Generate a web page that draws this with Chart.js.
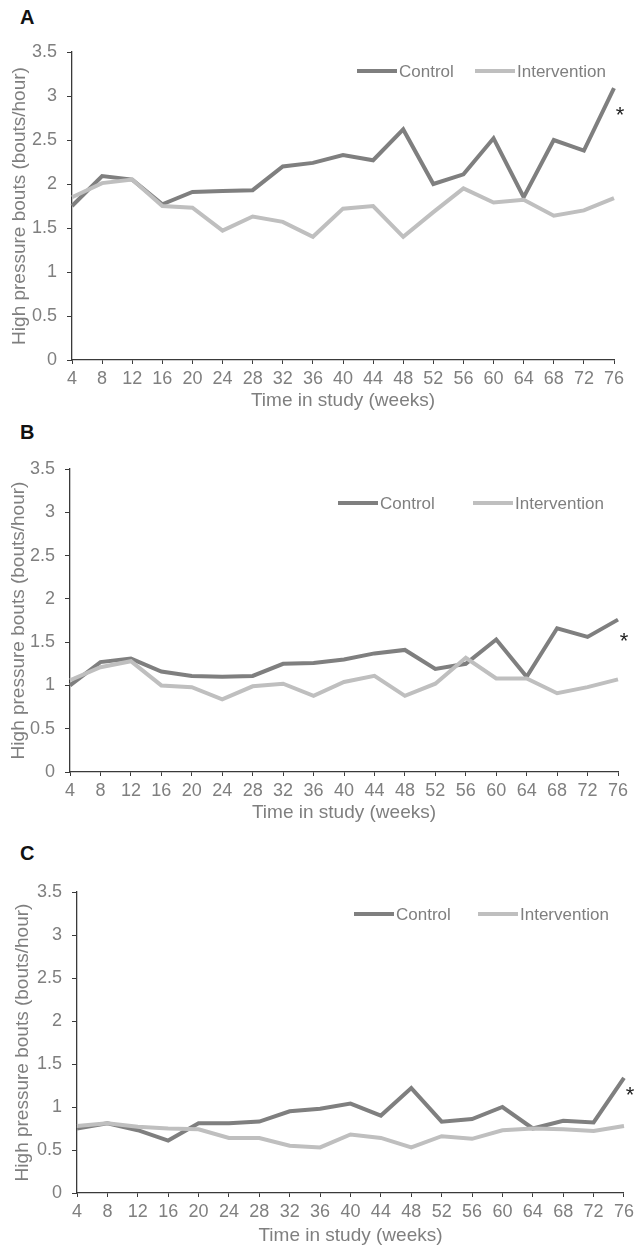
<!DOCTYPE html>
<html>
<head>
<meta charset="utf-8">
<script src="https://cdn.jsdelivr.net/npm/chart.js@4.4.0/dist/chart.umd.min.js"></script>
<style>
  body { margin: 0; background: #fff; width: 638px; height: 1249px; position: relative; overflow: hidden; font-family: 'Liberation Sans', Arial, sans-serif; }
  canvas { position: absolute; left: 0; }
  .letter { position: absolute; left: 20px; font-weight: bold; font-size: 20px; line-height: 20px; color: #111; }
</style>
</head>
<body>
<div class="letter" style="top:7px">A</div>
<div class="letter" style="top:422px">B</div>
<div class="letter" style="top:843px">C</div>
<canvas id="chartA" width="638" height="414" style="top:0px"></canvas>
<canvas id="chartB" width="638" height="414" style="top:414px"></canvas>
<canvas id="chartC" width="638" height="421" style="top:828px"></canvas>
<script>
// weeks in study
const weeks = ['4', '8', '12', '16', '20', '24', '28', '32', '36', '40', '44', '48', '52', '56', '60', '64', '68', '72', '76'];
const seriesNames = ['Control', 'Intervention'];

// panel A
const controlA = [1.75, 2.09, 2.05, 1.77, 1.91, 1.92, 1.93, 2.20, 2.24, 2.33, 2.27, 2.62, 2.00, 2.11, 2.52, 1.85, 2.50, 2.38, 3.09];
const interventionA = [1.85, 2.01, 2.05, 1.75, 1.73, 1.47, 1.63, 1.57, 1.40, 1.72, 1.75, 1.40, 1.68, 1.95, 1.79, 1.82, 1.64, 1.70, 1.84];

// panel B
const controlB = [1.00, 1.27, 1.31, 1.16, 1.11, 1.10, 1.11, 1.25, 1.26, 1.30, 1.37, 1.41, 1.19, 1.25, 1.53, 1.10, 1.66, 1.56, 1.76];
const interventionB = [1.06, 1.21, 1.28, 1.00, 0.98, 0.84, 0.99, 1.02, 0.88, 1.04, 1.11, 0.88, 1.02, 1.32, 1.08, 1.08, 0.91, 0.98, 1.07];

// panel C
const controlC = [0.75, 0.81, 0.73, 0.61, 0.81, 0.81, 0.83, 0.95, 0.98, 1.04, 0.90, 1.22, 0.83, 0.86, 1.00, 0.75, 0.84, 0.82, 1.34];
const interventionC = [0.78, 0.81, 0.77, 0.75, 0.74, 0.64, 0.64, 0.55, 0.53, 0.68, 0.64, 0.53, 0.66, 0.63, 0.73, 0.75, 0.74, 0.72, 0.78];

// where the significance star sits (y value)
const starA = 2.82, starB = 1.55, starC = 1.17;

const FONT = "'Liberation Sans', Arial, sans-serif";
const TICK_FONT = "'Liberation Sans Narrow', 'Arial Narrow', 'Liberation Sans', Arial, sans-serif";
const GREY_TEXT = '#7f7f7f';
const AXIS = '#3a3a3a';

Chart.defaults.font.family = FONT;
Chart.defaults.color = GREY_TEXT;

// legend drawn inside the plot + the asterisk at the end of the control line
const insideBits = {
  id: 'insideBits',
  afterDatasetsDraw(chart, args, opts) {
    const ctx = chart.ctx;
    const area = chart.chartArea;
    ctx.save();
    ctx.font = '17px ' + FONT;
    ctx.textBaseline = 'middle';
    ctx.textAlign = 'left';
    chart.data.datasets.forEach((ds, i) => {
      const x = area.left + opts.xs[i];
      const y = area.top + opts.y;
      ctx.strokeStyle = ds.borderColor;
      ctx.lineWidth = 4;
      ctx.beginPath();
      ctx.moveTo(x, y);
      ctx.lineTo(x + 40, y);
      ctx.stroke();
      ctx.fillStyle = GREY_TEXT;
      ctx.fillText(ds.label, x + 42, y + 1);
    });
    const xs = chart.scales.x, ys = chart.scales.y;
    ctx.font = '22px ' + FONT;
    ctx.fillStyle = '#222';
    ctx.textAlign = 'center';
    ctx.textBaseline = 'alphabetic';
    ctx.fillText('*', xs.getPixelForValue(weeks.length - 1) + 6, ys.getPixelForValue(opts.star) + 10);
    ctx.restore();
  }
};

function makePanel(id, control, intervention, p) {
  const ctx = document.getElementById(id).getContext('2d');
  return new Chart(ctx, {
    type: 'line',
    data: {
      labels: weeks,
      datasets: [
        { label: seriesNames[0], data: control, borderColor: '#7f7f7f', borderWidth: 4, pointRadius: 0, tension: 0, order: 1 },
        { label: seriesNames[1], data: intervention, borderColor: '#bfbfbf', borderWidth: 4, pointRadius: 0, tension: 0, order: 0 }
      ]
    },
    options: {
      responsive: false,
      animation: false,
      layout: { padding: { left: p.padLeft, right: p.padRight, top: p.padTop, bottom: p.padBottom } },
      plugins: {
        legend: { display: false },
        tooltip: { enabled: false },
        insideBits: { xs: p.legendXs, y: p.legendY, star: p.star }
      },
      scales: {
        x: {
          offset: false,
          grid: { display: true, drawOnChartArea: false, drawTicks: true, tickLength: 4, color: AXIS, offset: false },
          border: { display: true, color: AXIS, width: 1.3 },
          ticks: { color: GREY_TEXT, font: { family: TICK_FONT, size: 18 }, padding: 4, maxRotation: 0, autoSkip: false },
          title: { display: true, text: 'Time in study (weeks)', color: GREY_TEXT, font: { size: 19 }, padding: 0 },
          afterFit: s => { s.height = p.xHeight; }
        },
        y: {
          min: 0,
          max: 3.5,
          grid: { display: true, drawOnChartArea: false, drawTicks: true, tickLength: 5, color: AXIS },
          border: { display: true, color: AXIS, width: 1.3 },
          ticks: {
            stepSize: 0.5, color: GREY_TEXT, font: { family: TICK_FONT, size: 18 }, padding: 10,
            callback: v => String(Math.round(v * 10) / 10)
          },
          title: { display: true, text: 'High pressure bouts (bouts/hour)', color: GREY_TEXT, font: { size: 19 }, padding: 0 },
          afterFit: s => { s.width = p.yWidth; }
        }
      }
    },
    plugins: [insideBits]
  });
}

makePanel('chartA', controlA, interventionA, {
  padLeft: 8, yWidth: 64, padRight: 24, padTop: 52, padBottom: 1.6, xHeight: 52.4,
  legendXs: [285, 403], legendY: 19, star: starA
});
makePanel('chartB', controlB, interventionB, {
  padLeft: 7, yWidth: 63, padRight: 20, padTop: 55, padBottom: 3.6, xHeight: 52.4,
  legendXs: [268, 403], legendY: 34, star: starB
});
makePanel('chartC', controlC, interventionC, {
  padLeft: 11, yWidth: 66, padRight: 12, padTop: 64, padBottom: 1.6, xHeight: 54.4,
  legendXs: [277, 401], legendY: 22, star: starC
});
</script>
</body>
</html>
